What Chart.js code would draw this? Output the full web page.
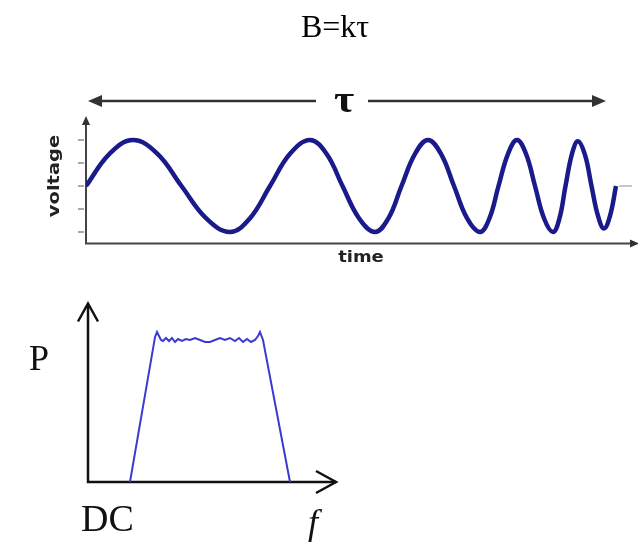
<!DOCTYPE html>
<html>
<head>
<meta charset="utf-8">
<script src="https://cdn.jsdelivr.net/npm/chart.js@4"></script>
<style>
  html, body { margin: 0; padding: 0; background: #fff; }
  #wrap { position: relative; width: 638px; height: 542px; }
  canvas { position: absolute; left: 0; }
  #chirp { top: 0; }
  #spectrum { top: 280px; }
</style>
</head>
<body>
<div id="wrap">
  <canvas id="chirp" width="638" height="280"></canvas>
  <canvas id="spectrum" width="638" height="262"></canvas>
</div>
<script>
// chirp pulse: time (arbitrary units) and voltage
const chirpTime = [0, 0.47, 0.94, 1.43, 1.91, 2.40, 2.88, 3.28, 3.68, 4.08,
  4.48, 4.81, 5.13, 5.46, 5.78, 6.05, 6.31, 6.58, 6.84, 7.10,
  7.36, 7.62, 7.88, 8.07, 8.25, 8.44, 8.62, 8.80, 8.98, 9.16,
  9.34, 9.47, 9.59, 9.72, 9.84, 9.98, 10.11, 10.24, 10.36, 10.48, 10.60];
const chirpVolt = [0, 1.4, 2, 1.4, 0, -1.4, -2, -1.4, 0, 1.4,
  2, 1.4, 0, -1.4, -2, -1.4, 0, 1.4, 2, 1.4,
  0, -1.4, -2, -1.4, 0, 1.4, 2, 1.4, 0, -1.4,
  -2, -1.4, 0, 1.4, 1.95, 1.35, 0, -1.3, -1.85, -1.3, 0];
const voltTicks = [-2, -1, 0, 1, 2];

// power spectrum: frequency and power
const specFreq = [4.2, 6.7, 6.9, 7.3, 7.5, 7.8, 8.1, 8.4, 8.7, 9.0, 9.4, 9.8,
  10.2, 10.7, 11.2, 11.7, 12.2, 12.7, 13.2, 13.7, 14.2, 14.7, 15.1, 15.5,
  15.9, 16.3, 16.7, 17.0, 17.2, 17.5, 20.2];
const specPower = [0, 1.02, 1.056, 1.0, 0.993, 1.014, 0.993, 1.014, 0.986, 1.007, 0.993, 1.007,
  1.0, 1.014, 1.0, 0.986, 0.986, 1.0, 1.014, 1.0, 1.014, 0.993, 1.014, 0.986,
  1.007, 0.986, 1.0, 1.028, 1.056, 1.0, 0];

const SERIF = '"Liberation Serif", "Times New Roman", serif';
const SANS = '"DejaVu Sans", Arial, sans-serif';

function toXY(xs, ys) {
  return xs.map((v, i) => ({ x: v, y: ys[i] }));
}

function filledHead(ctx, tx, ty, dx, dy, len, half) {
  const bx = tx - dx * len, by = ty - dy * len;
  ctx.beginPath();
  ctx.moveTo(tx, ty);
  ctx.lineTo(bx - dy * half, by + dx * half);
  ctx.lineTo(bx + dy * half, by - dx * half);
  ctx.closePath();
  ctx.fill();
}

function openHead(ctx, tx, ty, dx, dy, len, half) {
  const bx = tx - dx * len, by = ty - dy * len;
  ctx.beginPath();
  ctx.moveTo(bx - dy * half, by + dx * half);
  ctx.lineTo(tx, ty);
  ctx.lineTo(bx + dy * half, by - dx * half);
  ctx.stroke();
}

// stretched label, rotated by angle around its centre
function wideText(ctx, text, cx, cy, font, sx, angle) {
  ctx.save();
  ctx.translate(cx, cy);
  ctx.rotate(angle);
  ctx.scale(sx, 1);
  ctx.font = font;
  ctx.textAlign = 'center';
  ctx.textBaseline = 'middle';
  ctx.fillText(text, 0, 0);
  ctx.restore();
}

const chirpDecor = {
  id: 'chirpDecor',
  beforeDatasetsDraw(chart) {
    const { ctx, chartArea: a, scales: { y } } = chart;
    ctx.save();
    ctx.strokeStyle = '#444';
    ctx.fillStyle = '#333';
    ctx.lineWidth = 2;
    ctx.beginPath();
    ctx.moveTo(a.left, a.top + 6);
    ctx.lineTo(a.left, a.bottom);
    ctx.lineTo(a.right - 4, a.bottom);
    ctx.stroke();
    filledHead(ctx, a.left, a.top - 1, 0, -1, 9, 4);
    filledHead(ctx, a.right + 3, a.bottom, 1, 0, 9, 4);

    // voltage ticks left of the axis, one stray tick on the right
    ctx.strokeStyle = '#8c8c8c';
    ctx.lineWidth = 1.5;
    voltTicks.forEach(v => {
      const py = y.getPixelForValue(v);
      ctx.beginPath();
      ctx.moveTo(a.left - 8, py);
      ctx.lineTo(a.left - 2, py);
      ctx.stroke();
    });
    const p0 = y.getPixelForValue(0);
    ctx.strokeStyle = '#b4b4b4';
    ctx.beginPath();
    ctx.moveTo(619, p0);
    ctx.lineTo(632, p0);
    ctx.stroke();

    // pulse length arrow
    ctx.strokeStyle = '#333';
    ctx.lineWidth = 2.5;
    ctx.beginPath();
    ctx.moveTo(96, 101);
    ctx.lineTo(316, 101);
    ctx.moveTo(368, 101);
    ctx.lineTo(594, 101);
    ctx.stroke();
    filledHead(ctx, 88, 101, -1, 0, 14, 6);
    filledHead(ctx, 606, 101, 1, 0, 14, 6);
    ctx.restore();
  },
  afterDraw(chart) {
    const { ctx, chartArea: a } = chart;
    ctx.save();
    ctx.fillStyle = '#000';
    ctx.font = '32px ' + SERIF;
    ctx.textAlign = 'center';
    ctx.textBaseline = 'alphabetic';
    ctx.fillText('B=kτ', 335, 37);

    ctx.fillStyle = '#111';
    wideText(ctx, 'τ', 344, 102, 'bold 38px ' + SERIF, 1.15, 0);
    ctx.fillStyle = '#222';
    wideText(ctx, 'time', (a.left + a.right) / 2, 258, 'bold 16px ' + SANS, 1.12, 0);
    wideText(ctx, 'voltage', 55, 176, 'bold 15px ' + SANS, 1.3, -Math.PI / 2);
    ctx.restore();
  }
};

const spectrumDecor = {
  id: 'spectrumDecor',
  beforeDatasetsDraw(chart) {
    const { ctx, chartArea: a } = chart;
    ctx.save();
    ctx.strokeStyle = '#111';
    ctx.lineWidth = 2.5;
    ctx.beginPath();
    ctx.moveTo(a.left, a.top);
    ctx.lineTo(a.left, a.bottom);
    ctx.lineTo(a.right - 2, a.bottom);
    ctx.stroke();
    ctx.lineJoin = 'miter';
    openHead(ctx, a.left, a.top - 1, 0, -1, 18, 10);
    openHead(ctx, a.right - 2, a.bottom, 1, 0, 20, 11);
    ctx.restore();
  },
  afterDraw(chart) {
    const { ctx } = chart;
    ctx.save();
    ctx.fillStyle = '#111';
    ctx.textBaseline = 'alphabetic';
    ctx.font = '36px ' + SERIF;
    ctx.fillText('P', 29, 90);
    ctx.font = '38px ' + SERIF;
    ctx.fillText('DC', 81, 251);
    ctx.font = 'italic 36px ' + SERIF;
    ctx.fillText('f', 308, 254);
    ctx.restore();
  }
};

new Chart(document.getElementById('chirp'), {
  type: 'line',
  data: {
    datasets: [{
      data: toXY(chirpTime, chirpVolt),
      borderColor: '#1a1a8a',
      borderWidth: 4.5,
      pointRadius: 0,
      tension: 0.4,
      fill: false
    }]
  },
  options: {
    responsive: false,
    animation: false,
    layout: { padding: { left: 86, right: 2, top: 117, bottom: 36.5 } },
    scales: {
      x: { type: 'linear', min: 0, max: 11, display: false },
      y: { min: -2.5, max: 3, display: false }
    },
    plugins: { legend: { display: false }, tooltip: { enabled: false } }
  },
  plugins: [chirpDecor]
});

new Chart(document.getElementById('spectrum'), {
  type: 'line',
  data: {
    datasets: [{
      data: toXY(specFreq, specPower),
      borderColor: '#3a3ad2',
      borderWidth: 2,
      pointRadius: 0,
      tension: 0,
      fill: false
    }]
  },
  options: {
    responsive: false,
    animation: false,
    layout: { padding: { left: 88, right: 300, top: 24.5, bottom: 60 } },
    scales: {
      x: { type: 'linear', min: 0, max: 25, display: false },
      y: { min: 0, max: 1.25, display: false }
    },
    plugins: { legend: { display: false }, tooltip: { enabled: false } }
  },
  plugins: [spectrumDecor]
});
</script>
</body>
</html>
